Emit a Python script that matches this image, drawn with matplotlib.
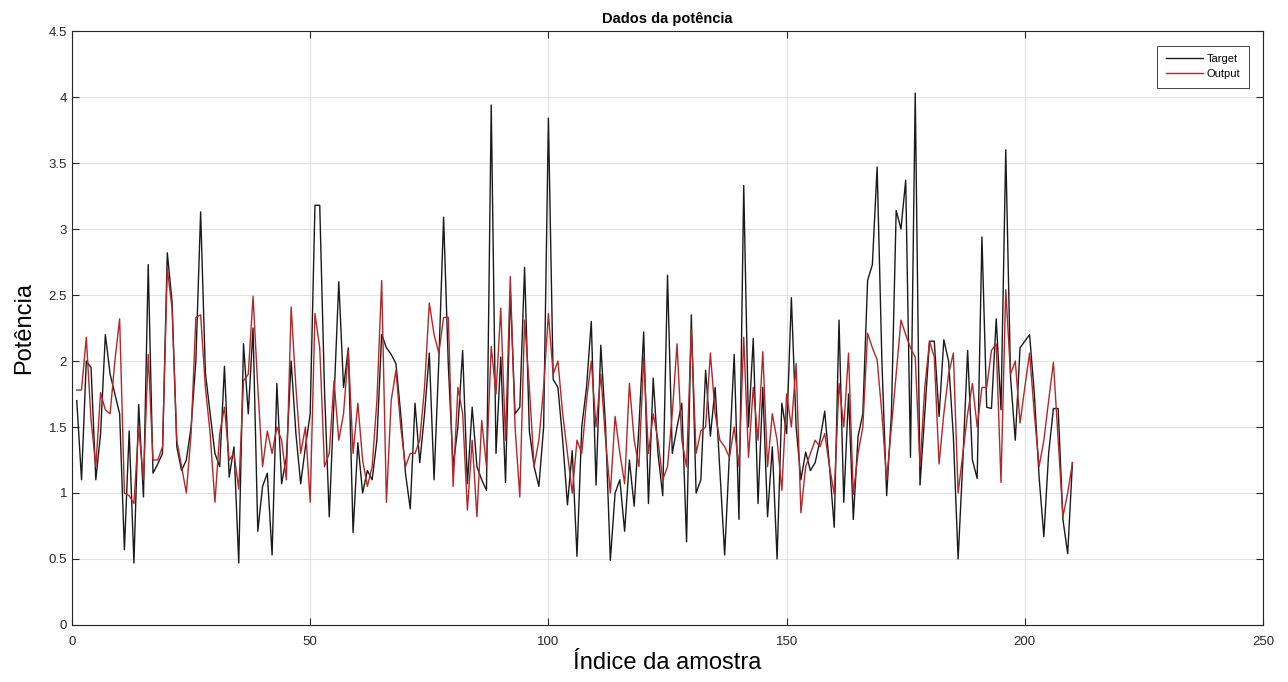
import numpy as np
import matplotlib
matplotlib.use("Agg")
import matplotlib.pyplot as plt
from matplotlib.ticker import FormatStrFormatter, MultipleLocator

plt.rcParams['font.family'] = ['Liberation Sans', 'DejaVu Sans']

# sample index 1..210
target = [
    1.70, 1.10, 2.00, 1.95, 1.10, 1.45, 2.20, 1.90, 1.75, 1.60,
    0.57, 1.47, 0.47, 1.67, 0.97, 2.73, 1.15, 1.22, 1.30, 2.82,
    2.45, 1.35, 1.17, 1.25, 1.50, 2.00, 3.13, 1.91, 1.60, 1.30,
    1.20, 1.96, 1.12, 1.35, 0.47, 2.13, 1.60, 2.25, 0.71, 1.05,
    1.15, 0.53, 1.83, 1.07, 1.27, 2.00, 1.45, 1.07, 1.35, 1.60,
    3.18, 3.18, 1.78, 0.82, 1.70, 2.60, 1.80, 2.10, 0.70, 1.38,
    1.00, 1.17, 1.10, 1.40, 2.20, 2.10, 2.05, 1.98, 1.60, 1.15,
    0.88, 1.68, 1.23, 1.60, 2.06, 1.10, 2.00, 3.09, 1.96, 1.20,
    1.50, 2.08, 1.07, 1.65, 1.20, 1.10, 1.02, 3.94, 1.30, 2.03,
    1.08, 2.53, 1.60, 1.65, 2.71, 1.47, 1.20, 1.05, 1.50, 3.84,
    1.86, 1.80, 1.40, 0.91, 1.32, 0.52, 1.50, 1.80, 2.30, 1.06,
    2.12, 1.50, 0.49, 1.00, 1.10, 0.71, 1.25, 0.90, 1.50, 2.22,
    0.92, 1.87, 1.30, 0.98, 2.65, 1.30, 1.50, 1.68, 0.63, 2.35,
    1.00, 1.10, 1.93, 1.43, 1.80, 1.17, 0.53, 1.30, 2.05, 0.80,
    3.33, 1.50, 2.17, 0.92, 1.80, 0.82, 1.35, 0.50, 1.68, 1.45,
    2.48, 1.50, 1.10, 1.31, 1.17, 1.23, 1.40, 1.62, 1.20, 0.74,
    2.31, 0.93, 1.75, 0.80, 1.43, 1.60, 2.61, 2.73, 3.47, 2.00,
    0.98, 1.60, 3.14, 3.00, 3.37, 1.27, 4.03, 1.06, 1.60, 2.15,
    2.15, 1.58, 2.16, 2.00, 1.43, 0.50, 1.25, 2.08, 1.25, 1.11,
    2.94, 1.65, 1.64, 2.32, 1.63, 3.60, 1.88, 1.40, 2.10, 2.15,
    2.20, 1.75, 1.12, 0.67, 1.30, 1.64, 1.64, 0.80, 0.54, 1.23,
]

output = [
    1.78, 1.78, 2.18, 1.55, 1.20, 1.76, 1.63, 1.60, 2.00, 2.32,
    1.00, 0.98, 0.92, 1.50, 1.10, 2.05, 1.25, 1.25, 1.35, 2.70,
    2.40, 1.40, 1.20, 1.00, 1.45, 2.33, 2.35, 1.80, 1.45, 0.93,
    1.45, 1.65, 1.25, 1.30, 1.03, 1.85, 1.90, 2.49, 1.80, 1.20,
    1.47, 1.30, 1.50, 1.40, 1.10, 2.41, 1.80, 1.30, 1.50, 0.93,
    2.36, 2.10, 1.20, 1.30, 1.85, 1.40, 1.60, 2.08, 1.30, 1.68,
    1.25, 1.05, 1.20, 1.70, 2.61, 0.93, 1.70, 1.93, 1.50, 1.20,
    1.30, 1.30, 1.40, 1.80, 2.44, 2.20, 2.06, 2.33, 2.33, 1.05,
    1.80, 1.60, 0.87, 1.40, 0.82, 1.55, 1.20, 2.11, 1.75, 2.40,
    1.40, 2.64, 1.50, 0.97, 2.31, 1.80, 1.20, 1.40, 1.80, 2.36,
    1.90, 2.00, 1.60, 1.30, 1.00, 1.40, 1.30, 1.70, 2.00, 1.50,
    1.90, 1.40, 1.00, 1.58, 1.30, 1.07, 1.83, 1.40, 1.20, 2.03,
    1.30, 1.60, 1.40, 1.10, 1.20, 1.60, 2.13, 1.40, 1.20, 2.24,
    1.30, 1.47, 1.50, 2.06, 1.60, 1.40, 1.35, 1.27, 1.50, 1.20,
    2.18, 1.27, 1.80, 1.40, 2.07, 1.20, 1.60, 1.40, 1.02, 1.75,
    1.50, 1.98, 0.85, 1.20, 1.30, 1.40, 1.35, 1.45, 1.20, 0.99,
    1.83, 1.50, 2.06, 0.99, 1.30, 1.50, 2.21, 2.10, 2.01, 1.60,
    1.10, 1.50, 1.90, 2.31, 2.20, 2.10, 2.03, 1.20, 1.80, 2.15,
    2.03, 1.22, 1.60, 1.90, 2.06, 1.00, 1.30, 1.60, 1.83, 1.50,
    1.80, 1.80, 2.08, 2.13, 1.08, 2.54, 1.90, 2.00, 1.53, 1.80,
    2.06, 1.60, 1.20, 1.40, 1.70, 1.99, 1.40, 0.82, 1.00, 1.23,
]

idx = np.arange(1, len(target) + 1)

fig = plt.figure(figsize=(12.88, 6.82), dpi=100)
ax = fig.add_axes([0.0559, 0.0836, 0.9247, 0.8709])

ax.plot(idx, target, color='#1a1a1a', linewidth=1.0, label='Target')
ax.plot(idx, output, color='#b3262a', linewidth=1.0, label='Output')

ax.set_xlim(0, 250)
ax.set_ylim(0, 4.5)
ax.xaxis.set_major_locator(MultipleLocator(50))
ax.yaxis.set_major_locator(MultipleLocator(0.5))
ax.yaxis.set_major_formatter(FormatStrFormatter('%g'))
ax.tick_params(direction='in', labelsize=9.5, colors='#262626', length=5,
               top=True, right=True)
ax.tick_params(axis='x', pad=8)
ax.grid(True, color='#e3e3e3', linewidth=0.8)
for s in ax.spines.values():
    s.set_color('#262626')
    s.set_linewidth(0.8)

ax.set_title('Dados da potência', fontsize=10.5, fontweight='bold', pad=6)
ax.set_xlabel('Índice da amostra', fontsize=17, labelpad=3)
ax.set_ylabel('Potência', fontsize=17, labelpad=10)

leg = ax.legend(loc='upper right', bbox_to_anchor=(0.988, 0.975),
                fontsize=8, fancybox=False, framealpha=1,
                edgecolor='#262626', handlelength=3.4, handletextpad=0.3,
                borderpad=0.75, labelspacing=0.45, borderaxespad=0)
leg.get_frame().set_linewidth(0.6)

fig.savefig('out.png', dpi=100)
